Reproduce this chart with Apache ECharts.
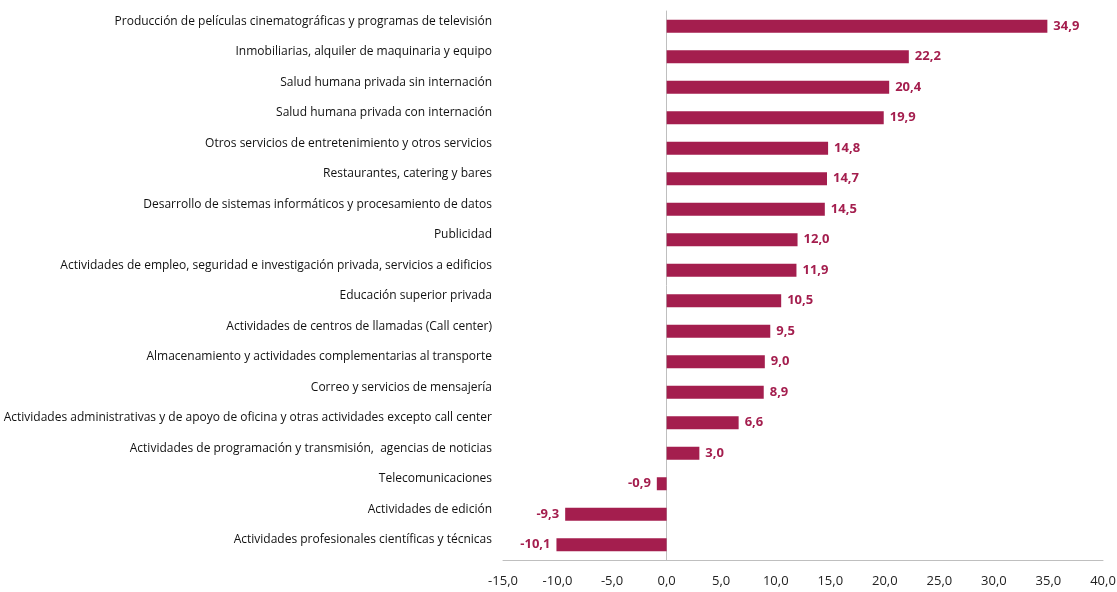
<!DOCTYPE html>
<html>
<head>
<meta charset="utf-8">
<script src="https://cdn.jsdelivr.net/npm/echarts@6/dist/echarts.min.js"></script>
<style>
  html, body { margin: 0; padding: 0; background: #fff; }
  #chart { width: 1117px; height: 592px; }
</style>
</head>
<body>
<div id="chart"></div>
<script>
// categorías (de arriba a abajo)
const categories = [
  "Producción de películas cinematográficas y programas de televisión",
  "Inmobiliarias, alquiler de maquinaria y equipo",
  "Salud humana privada sin internación",
  "Salud humana privada con internación",
  "Otros servicios de entretenimiento y otros servicios",
  "Restaurantes, catering y bares",
  "Desarrollo de sistemas informáticos y procesamiento de datos",
  "Publicidad",
  "Actividades de empleo, seguridad e investigación privada, servicios a edificios",
  "Educación superior privada",
  "Actividades de centros de llamadas (Call center)",
  "Almacenamiento y actividades complementarias al transporte",
  "Correo y servicios de mensajería",
  "Actividades administrativas y de apoyo de oficina y otras actividades excepto call center",
  "Actividades de programación y transmisión,  agencias de noticias",
  "Telecomunicaciones",
  "Actividades de edición",
  "Actividades profesionales científicas y técnicas"
];
const values = [34.9, 22.2, 20.4, 19.9, 14.8, 14.7, 14.5, 12.0, 11.9, 10.5, 9.5, 9.0, 8.9, 6.6, 3.0, -0.9, -9.3, -10.1];

const xMin = -15, xMax = 40, xStep = 5;

const fmt = (v) => v.toFixed(1).replace(".", ",");
const barColor = "#a41e4e";

const chart = echarts.init(document.getElementById("chart"));

const option = {
  animation: false,
  grid: { left: 503, right: 14, top: 11, bottom: 32, outerBoundsMode: "none", containLabel: false },
  xAxis: {
    type: "value",
    min: xMin,
    max: xMax,
    interval: xStep,
    splitLine: { show: false },
    axisTick: { show: false },
    axisLine: { show: true, onZero: false, lineStyle: { color: "#bfbfbf", width: 1 } },
    axisLabel: {
      color: "#222",
      fontSize: 13,
      fontFamily: "Open Sans",
      margin: 15,
      formatter: (v) => fmt(v)
    }
  },
  yAxis: {
    type: "category",
    inverse: true,
    data: categories,
    axisTick: { show: false },
    axisLine: { show: true, onZero: true, lineStyle: { color: "#bfbfbf", width: 1 } },
    axisLabel: {
      color: "#111",
      fontSize: 12,
      fontFamily: "Open Sans",
      margin: 11,
      verticalAlign: "bottom",
      lineHeight: 10
    }
  },
  series: [
    {
      type: "bar",
      data: values.map((v) => ({
        value: v,
        label: { position: v < 0 ? "left" : "right" }
      })),
      barWidth: 13,
      itemStyle: { color: barColor },
      label: {
        show: true,
        distance: 6,
        color: barColor,
        fontWeight: "bold",
        fontSize: 13,
        fontFamily: "Open Sans",
        formatter: (p) => fmt(p.value)
      }
    }
  ]
};

chart.setOption(option);
</script>
</body>
</html>
